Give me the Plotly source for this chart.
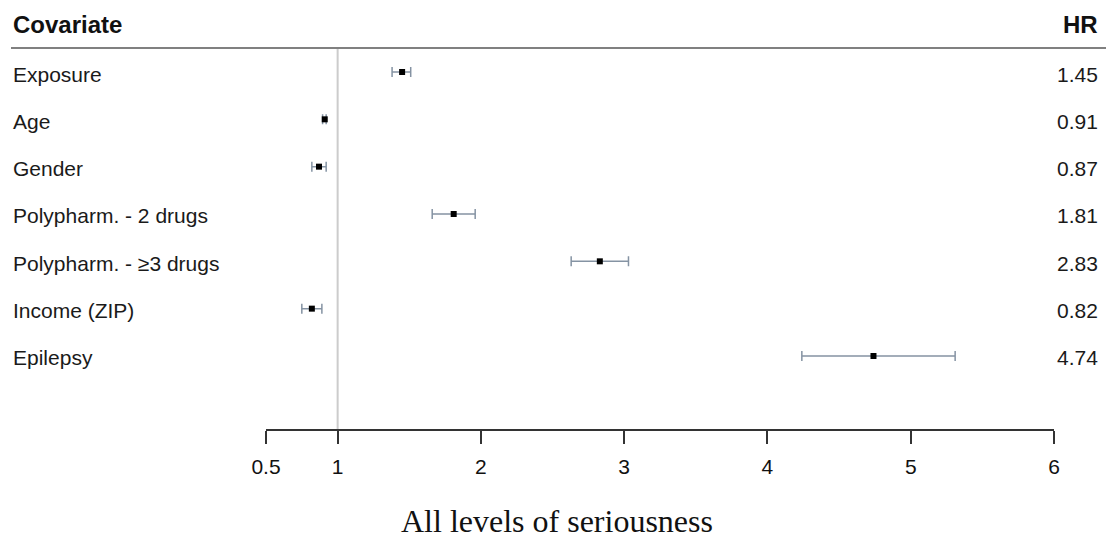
import plotly.graph_objects as go

covariates = ["Exposure", "Age", "Gender", "Polypharm. - 2 drugs",
              "Polypharm. - ≥3 drugs", "Income (ZIP)", "Epilepsy"]
hr = [1.45, 0.91, 0.87, 1.81, 2.83, 0.82, 4.74]
ci_low = [1.38, 0.895, 0.82, 1.66, 2.63, 0.75, 4.24]
ci_high = [1.51, 0.92, 0.92, 1.96, 3.03, 0.89, 5.31]
hr_labels = ["1.45", "0.91", "0.87", "1.81", "2.83", "0.82", "4.74"]
tick_vals = [0.5, 1, 2, 3, 4, 5, 6]
tick_text = ["0.5", "1", "2", "3", "4", "5", "6"]
title_text = "All levels of seriousness"

W, H = 1108, 544
L, R, T, B = 266, 54, 48, 115
plot_w = W - L - R
plot_h = H - T - B
row0_px = 72
row_step = 47.33

def px_to_paper_x(px):
    return (px - L) / plot_w

def px_to_paper_y(py):
    return (H - B - py) / plot_h

rows = list(range(len(covariates)))
y_top = (T - row0_px) / row_step
y_bot = (H - B - row0_px) / row_step

fig = go.Figure()
fig.add_trace(go.Scatter(
    x=hr, y=rows, mode="markers",
    marker=dict(symbol="square", size=6, color="black"),
    error_x=dict(type="data", symmetric=False,
                 array=[h - v for v, h in zip(hr, ci_high)],
                 arrayminus=[v - l for v, l in zip(hr, ci_low)],
                 color="#8593a3", thickness=1.5, width=5),
    showlegend=False, hoverinfo="skip", cliponaxis=False,
))

# reference line at HR = 1
fig.add_shape(type="line", x0=1, x1=1, xref="x", y0=0, y1=1, yref="paper",
              line=dict(color="#cccccc", width=2), layer="below")
# header underline
fig.add_shape(type="line", xref="paper", yref="paper",
              x0=px_to_paper_x(11), x1=px_to_paper_x(1106), y0=1, y1=1,
              line=dict(color="#808080", width=2))

font_sans = "Liberation Sans, Arial, sans-serif"
ann = []
ann.append(dict(text="<b>Covariate</b>", xref="paper", yref="paper",
                x=px_to_paper_x(11), y=px_to_paper_y(25), xanchor="left", yanchor="middle",
                showarrow=False, font=dict(family=font_sans, size=24, color="#111111")))
ann.append(dict(text="<b>HR</b>", xref="paper", yref="paper",
                x=px_to_paper_x(1100), y=px_to_paper_y(25), xanchor="right", yanchor="middle",
                showarrow=False, font=dict(family=font_sans, size=24, color="#111111")))
for i, (c, h) in enumerate(zip(covariates, hr_labels)):
    ann.append(dict(text=c, xref="paper", y=i, yref="y", x=px_to_paper_x(11),
                    xanchor="left", yanchor="middle", yshift=-2, showarrow=False,
                    font=dict(family=font_sans, size=21, color="#1a1a1a")))
    ann.append(dict(text=h, xref="paper", y=i, yref="y", x=px_to_paper_x(1100),
                    xanchor="right", yanchor="middle", yshift=-2, showarrow=False,
                    font=dict(family=font_sans, size=21, color="#1a1a1a")))
ann.append(dict(text=title_text, xref="paper", yref="paper",
                x=px_to_paper_x(557), y=px_to_paper_y(521), xanchor="center", yanchor="middle",
                showarrow=False, font=dict(family="Liberation Serif, Times New Roman, serif",
                                           size=32, color="#111111")))

fig.update_layout(
    width=W, height=H,
    margin=dict(l=L, r=R, t=T, b=B),
    paper_bgcolor="white", plot_bgcolor="white",
    annotations=ann,
    xaxis=dict(range=[0.5, 6], tickvals=tick_vals, ticktext=tick_text,
               showgrid=False, zeroline=False, showline=True, linecolor="#333333",
               linewidth=1.5, ticks="outside", ticklen=13, tickwidth=1.5,
               tickcolor="#333333", ticklabelstandoff=5,
               tickfont=dict(family=font_sans, size=21, color="#111111")),
    yaxis=dict(range=[y_bot, y_top], showgrid=False, zeroline=False,
               showline=False, showticklabels=False, ticks=""),
)

fig.write_html("out.html")
